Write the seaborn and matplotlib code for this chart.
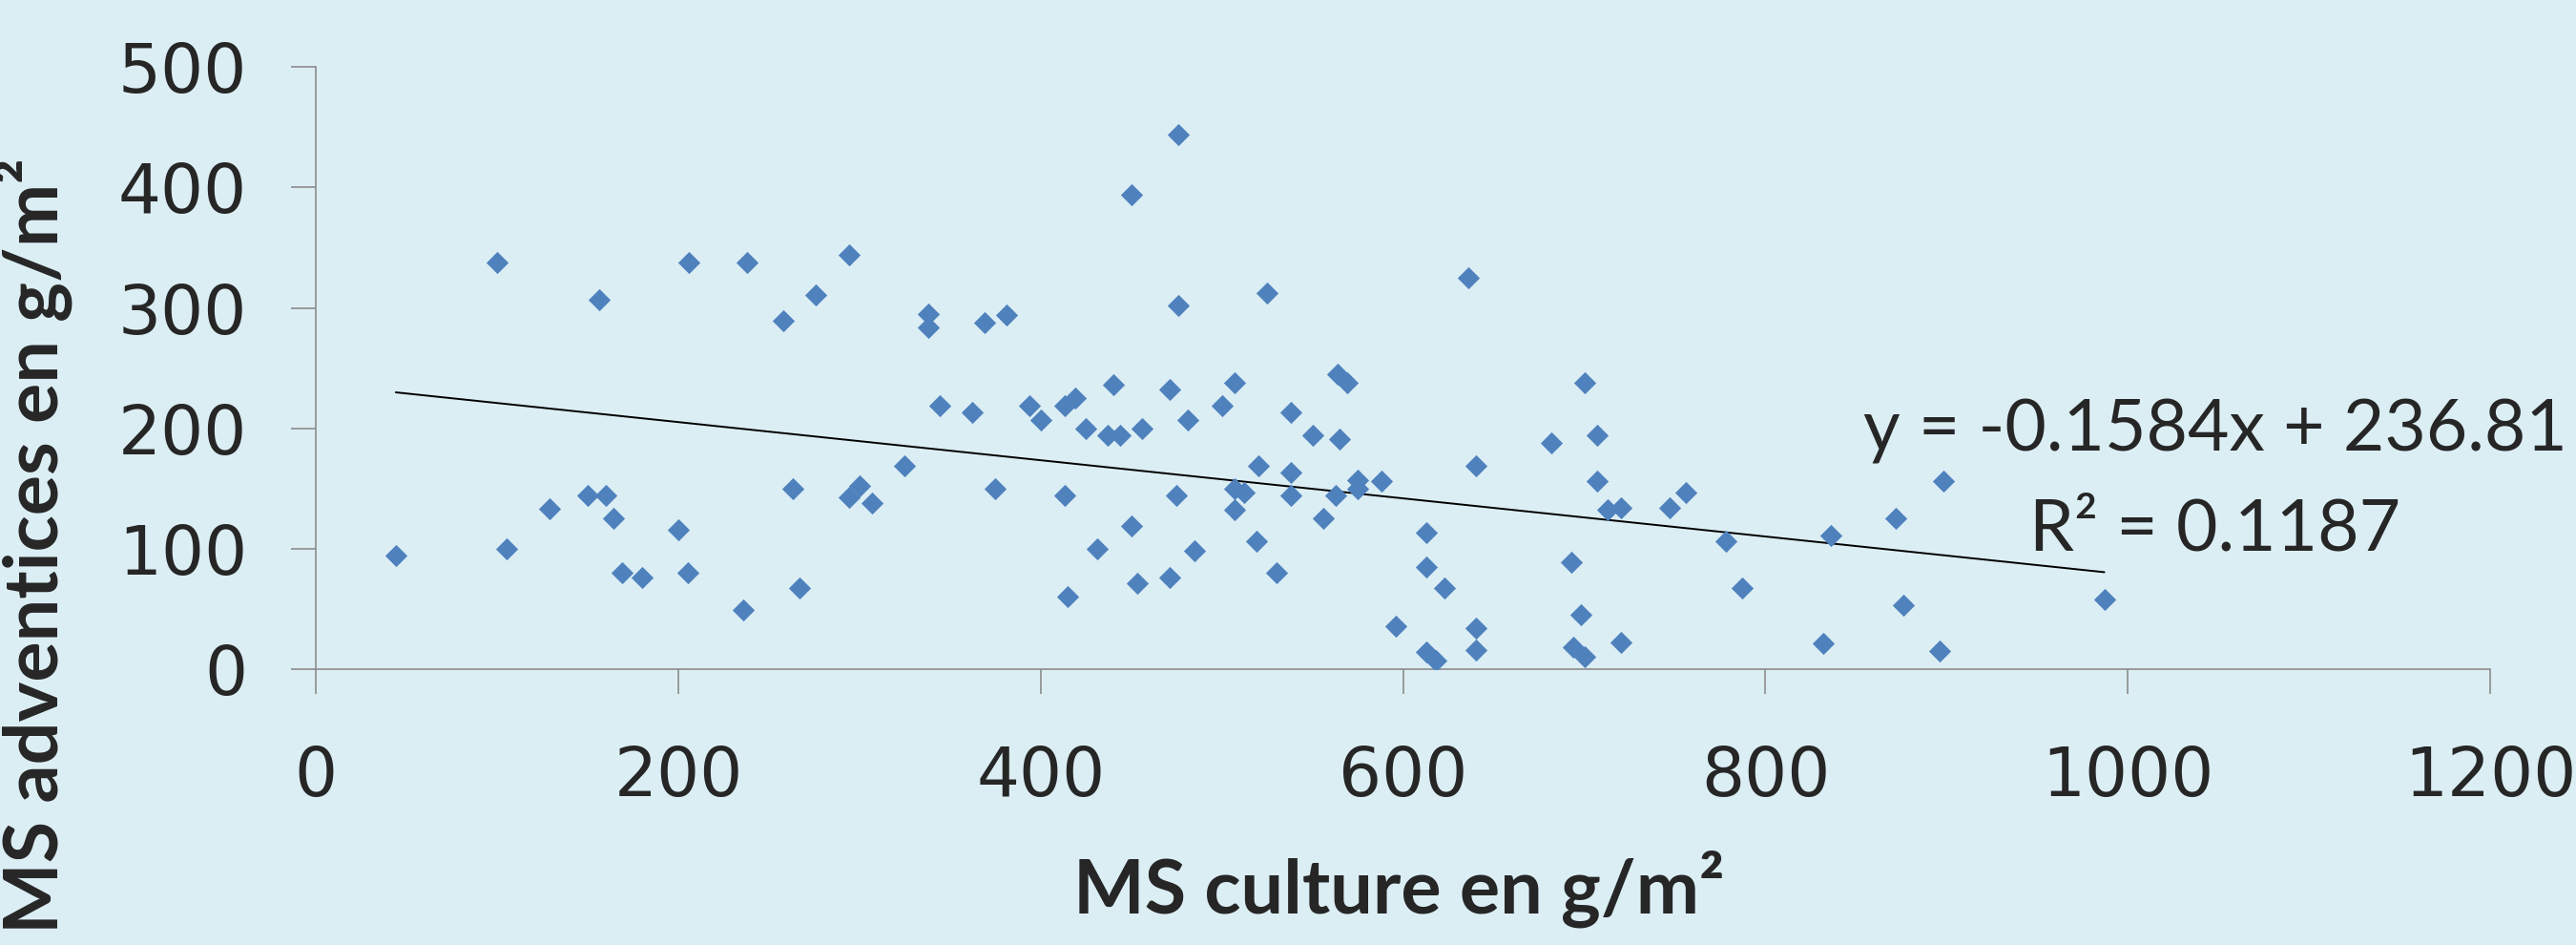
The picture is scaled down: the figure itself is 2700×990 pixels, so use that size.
import numpy as np
import pandas as pd
import matplotlib
matplotlib.use("Agg")
import matplotlib.pyplot as plt
import seaborn as sns

# --- DATA ---
culture = [44, 100, 105, 129, 150, 156, 160, 164, 169, 180, 200, 205, 206, 236, 238,
           258, 263, 267, 276, 294, 294, 300, 307, 325, 338, 338, 344,
           362, 369, 375, 381, 394, 400, 413, 413, 415, 419, 425, 431, 437, 440,
           444, 450, 450, 453, 456, 471, 471, 475, 476, 476, 481, 485, 500, 507,
           507, 507, 512, 519, 520, 525, 530, 538, 538, 538, 550, 556, 563, 564,
           565, 569, 575, 575, 588, 596, 613, 613, 613, 618, 623, 636, 640, 640,
           640, 682, 693, 694, 698, 700, 700, 707, 707, 713, 720, 720, 747, 756,
           778, 787, 832, 836, 872, 876, 896, 898, 987]
adventices = [94, 338, 100, 133, 144, 307, 144, 125, 80, 76, 116, 80, 338, 49, 338,
              289, 150, 67, 311, 143, 344, 152, 138, 169, 295, 284, 219,
              213, 288, 150, 294, 219, 207, 219, 144, 60, 225, 200, 100, 194, 236,
              194, 394, 119, 71, 200, 232, 76, 144, 444, 302, 207, 98, 219, 238,
              150, 132, 147, 106, 169, 312, 80, 213, 163, 144, 194, 125, 144, 245,
              191, 238, 157, 150, 156, 36, 113, 85, 14, 7, 67, 325, 169, 34,
              16, 188, 89, 18, 45, 238, 10, 194, 156, 132, 134, 22, 134, 147,
              106, 67, 21, 111, 125, 53, 15, 156, 58]

# trend line as shown on the chart (Excel fit)
slope = -0.1584
intercept = 236.81
r_squared = 0.1187

x_ticks = [0, 200, 400, 600, 800, 1000, 1200]
y_ticks = [0, 100, 200, 300, 400, 500]

BG = "#DBEEF4"
BLUE = "#4F81BD"
GREY = "#8C8C8C"
LABEL_FONT = ["Lato", "DejaVu Sans"]

df = pd.DataFrame({"culture": culture, "adventices": adventices})

sns.set_style("ticks", {"axes.facecolor": BG, "figure.facecolor": BG})
plt.rcParams["font.family"] = ["DejaVu Sans"]

fig = plt.figure(figsize=(27, 9.9), dpi=100)
ax = fig.add_axes([0.1227, 0.292, 0.844, 0.637])

sns.scatterplot(data=df, x="culture", y="adventices", marker="D", s=140,
                color=BLUE, linewidth=0, ax=ax, zorder=3)

trend = pd.DataFrame({"x": [df["culture"].min(), df["culture"].max()]})
trend["y"] = slope * trend["x"] + intercept
sns.lineplot(data=trend, x="x", y="y", color="black", linewidth=1.4, ax=ax, zorder=2)

ax.set_xlim(0, 1200)
ax.set_ylim(0, 500)
ax.set_xticks(x_ticks)
ax.set_yticks(y_ticks)
ax.tick_params(axis="both", length=19, width=1.2, color=GREY, labelsize=51)
ax.tick_params(axis="y", pad=33)
ax.tick_params(axis="x", pad=38)

for side in ["top", "right"]:
    ax.spines[side].set_visible(False)
for side in ["left", "bottom"]:
    ax.spines[side].set_color(GREY)
    ax.spines[side].set_linewidth(1.2)

ax.set_xlabel("MS culture en g/m²", fontsize=57, fontweight="bold", family=LABEL_FONT)
ax.set_ylabel("MS adventices en g/m²", fontsize=57, fontweight="bold", family=LABEL_FONT)
ax.xaxis.set_label_coords(0.498, -0.30)
ax.yaxis.set_label_coords(-0.112, 0.205)

ax.text(1048, 198, f"y = {slope}x + {intercept}", fontsize=54,
        family=LABEL_FONT, ha="center", va="center")
ax.text(1048, 116, f"R² = {r_squared}", fontsize=54,
        family=LABEL_FONT, ha="center", va="center")

fig.savefig("out.png", dpi=100, facecolor=BG)
